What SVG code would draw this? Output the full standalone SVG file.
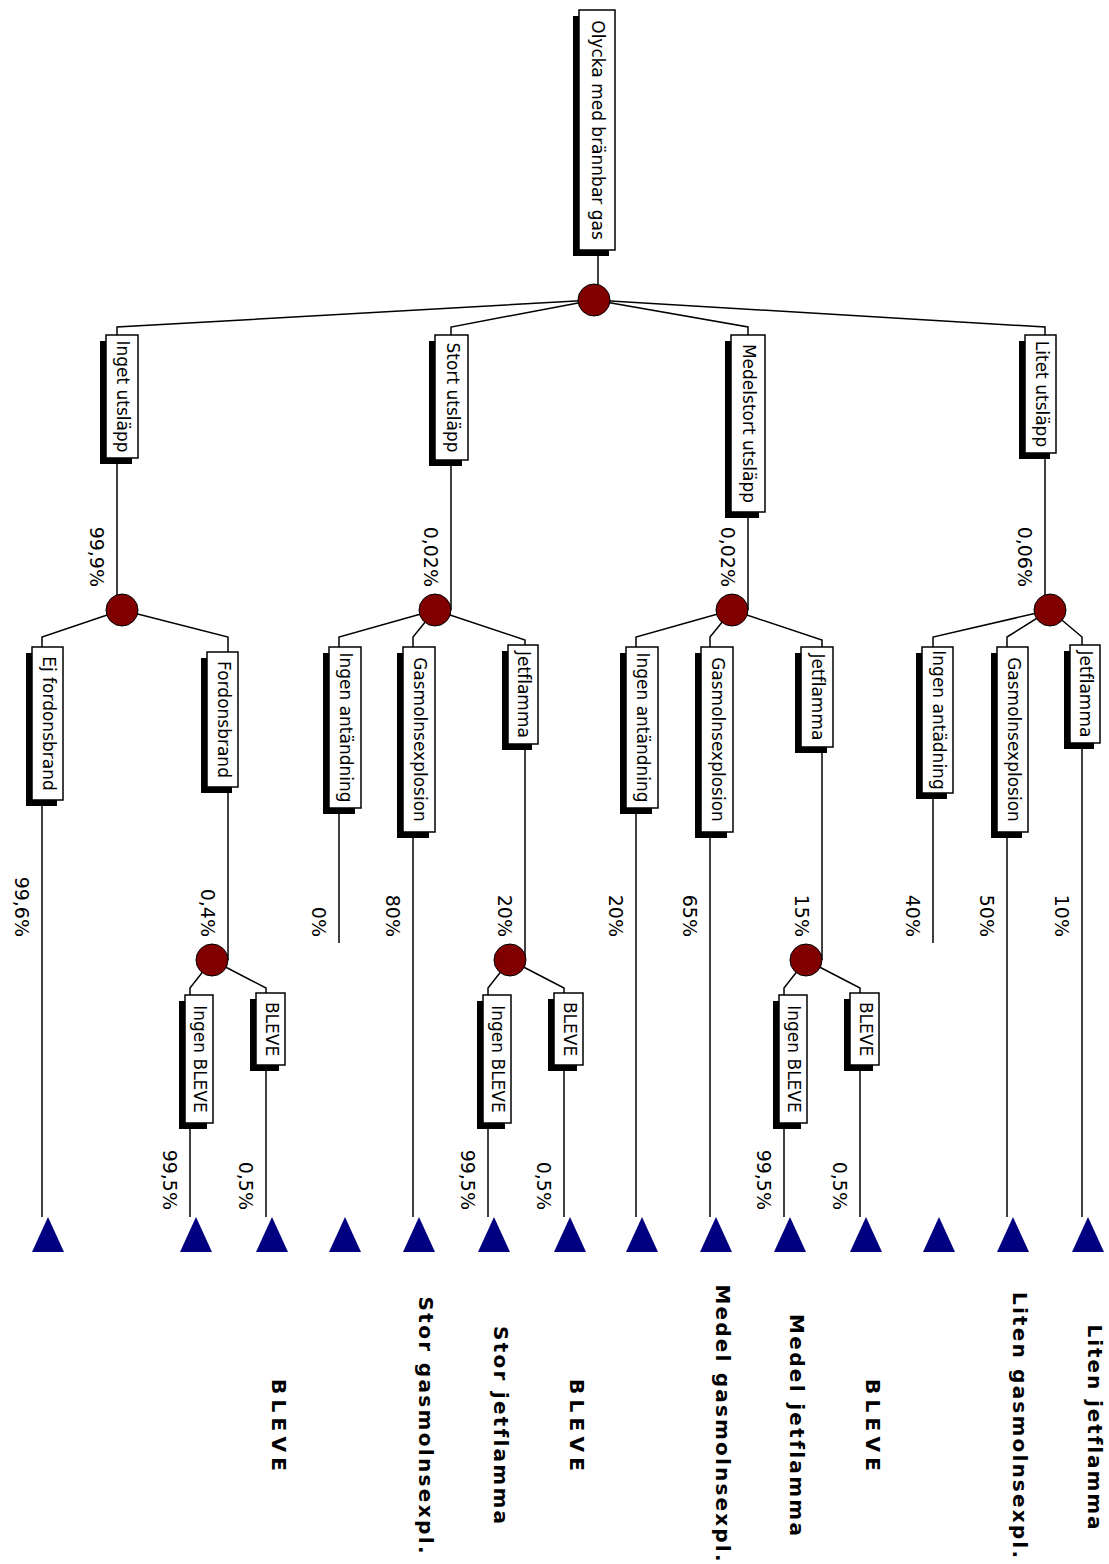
<svg xmlns="http://www.w3.org/2000/svg" width="1109" height="1564" viewBox="0 0 1109 1564">
<defs>
<style>
text{font-variant-ligatures:none}
.sh{fill:#000}
.bx{fill:#fff;stroke:#000;stroke-width:1.5}
.lbl{font-family:"DejaVu Sans",sans-serif;font-size:17px;text-anchor:middle;fill:#000}
.pct{font-family:"DejaVu Sans",sans-serif;font-size:19px;text-anchor:end;fill:#000}
.out{font-family:"DejaVu Sans",sans-serif;font-weight:bold;font-size:20px;text-anchor:middle;fill:#000}
.ch{fill:#800000;stroke:#000;stroke-width:1}
.end{fill:#000080}
.conn{stroke:#000;stroke-width:1.5;fill:none}
</style>
</defs>
<rect width="1109" height="1564" fill="#fff"/>
<g id="connectors" class="conn">
<polyline points="598,250 598,300"/>
<polyline points="594,300 117,327 117,335"/>
<polyline points="594,300 451,327 451,335"/>
<polyline points="594,300 748,327 748,335"/>
<polyline points="594,300 1045,327 1045,335"/>
<polyline points="117,458 117,605"/>
<polyline points="451,460 451,610"/>
<polyline points="748,512 748,610"/>
<polyline points="1045,453 1045,605"/>
<polyline points="122,610 42,637 42,647"/>
<polyline points="122,610 228,637 228,652"/>
<polyline points="435,610 339,637 339,647"/>
<polyline points="435,610 413,637 413,647"/>
<polyline points="435,610 525,640 525,645"/>
<polyline points="732,610 636,637 636,647"/>
<polyline points="732,610 710,637 710,647"/>
<polyline points="732,610 822,640 822,647"/>
<polyline points="1050,610 933,637 933,647"/>
<polyline points="1050,610 1007,637 1007,647"/>
<polyline points="1050,610 1082,637 1082,645"/>
<polyline points="42,800 42,1217"/>
<polyline points="228,787 228,960"/>
<polyline points="339,808 339,943"/>
<polyline points="413,832 413,1217"/>
<polyline points="525,744 525,960"/>
<polyline points="636,808 636,1217"/>
<polyline points="710,832 710,1217"/>
<polyline points="822,747 822,960"/>
<polyline points="933,793 933,943"/>
<polyline points="1007,832 1007,1217"/>
<polyline points="1082,743 1082,1217"/>
<polyline points="212,960 190,988 190,995"/>
<polyline points="212,960 266,988 266,993"/>
<polyline points="510,960 488,988 488,995"/>
<polyline points="510,960 564,988 564,993"/>
<polyline points="806,960 784,988 784,995"/>
<polyline points="806,960 860,988 860,993"/>
<polyline points="190,1123 190,1217"/>
<polyline points="266,1065 266,1217"/>
<polyline points="488,1123 488,1217"/>
<polyline points="564,1065 564,1217"/>
<polyline points="784,1123 784,1217"/>
<polyline points="860,1065 860,1217"/>
</g>
<g id="n-root"><rect class="sh" x="573" y="16" width="36" height="240"/><rect class="bx" x="579" y="10" width="36" height="240"/><text class="lbl" transform="translate(592,130) rotate(90)">Olycka med brännbar gas</text></g>
<g id="n-inget"><rect class="sh" x="100" y="341" width="32" height="123"/><rect class="bx" x="106" y="335" width="32" height="123"/><text class="lbl" transform="translate(117,396.5) rotate(90)">Inget utsläpp</text></g>
<g id="n-stort"><rect class="sh" x="429" y="341" width="33" height="125"/><rect class="bx" x="435" y="335" width="33" height="125"/><text class="lbl" transform="translate(446.5,397.5) rotate(90)">Stort utsläpp</text></g>
<g id="n-medel"><rect class="sh" x="725" y="341" width="34" height="177"/><rect class="bx" x="731" y="335" width="34" height="177"/><text class="lbl" transform="translate(743,423.5) rotate(90)">Medelstort utsläpp</text></g>
<g id="n-litet"><rect class="sh" x="1019" y="341" width="31" height="118"/><rect class="bx" x="1025" y="335" width="31" height="118"/><text class="lbl" transform="translate(1035.5,394) rotate(90)">Litet utsläpp</text></g>
<g id="n-ej"><rect class="sh" x="26" y="653" width="31" height="153"/><rect class="bx" x="32" y="647" width="31" height="153"/><text class="lbl" transform="translate(42.5,723.5) rotate(90)">Ej fordonsbrand</text></g>
<g id="n-ford"><rect class="sh" x="201" y="658" width="31" height="135"/><rect class="bx" x="207" y="652" width="31" height="135"/><text class="lbl" transform="translate(217.5,719.5) rotate(90)">Fordonsbrand</text></g>
<g id="n-s-ia"><rect class="sh" x="323" y="653" width="32" height="161"/><rect class="bx" x="329" y="647" width="32" height="161"/><text class="lbl" transform="translate(340,727.5) rotate(90)">Ingen antändning</text></g>
<g id="n-s-g"><rect class="sh" x="397" y="653" width="32" height="185"/><rect class="bx" x="403" y="647" width="32" height="185"/><text class="lbl" transform="translate(414,739.5) rotate(90)">Gasmolnsexplosion</text></g>
<g id="n-s-j"><rect class="sh" x="502" y="651" width="30" height="99"/><rect class="bx" x="508" y="645" width="30" height="99"/><text class="lbl" transform="translate(518,694.5) rotate(90)">Jetflamma</text></g>
<g id="n-m-ia"><rect class="sh" x="620" y="653" width="32" height="161"/><rect class="bx" x="626" y="647" width="32" height="161"/><text class="lbl" transform="translate(637,727.5) rotate(90)">Ingen antändning</text></g>
<g id="n-m-g"><rect class="sh" x="695" y="653" width="32" height="185"/><rect class="bx" x="701" y="647" width="32" height="185"/><text class="lbl" transform="translate(712,739.5) rotate(90)">Gasmolnsexplosion</text></g>
<g id="n-m-j"><rect class="sh" x="795" y="653" width="32" height="100"/><rect class="bx" x="801" y="647" width="32" height="100"/><text class="lbl" transform="translate(812,697) rotate(90)">Jetflamma</text></g>
<g id="n-l-ia"><rect class="sh" x="916" y="653" width="31" height="146"/><rect class="bx" x="922" y="647" width="31" height="146"/><text class="lbl" transform="translate(932.5,720) rotate(90)">Ingen antädning</text></g>
<g id="n-l-g"><rect class="sh" x="991" y="653" width="31" height="185"/><rect class="bx" x="997" y="647" width="31" height="185"/><text class="lbl" transform="translate(1007.5,739.5) rotate(90)">Gasmolnsexplosion</text></g>
<g id="n-l-j"><rect class="sh" x="1064" y="651" width="30" height="98"/><rect class="bx" x="1070" y="645" width="30" height="98"/><text class="lbl" transform="translate(1080,694) rotate(90)">Jetflamma</text></g>
<g id="n-f-ib"><rect class="sh" x="179" y="1001" width="28" height="128"/><rect class="bx" x="185" y="995" width="28" height="128"/><text class="lbl" transform="translate(194,1059) rotate(90)">Ingen BLEVE</text></g>
<g id="n-f-b"><rect class="sh" x="250" y="999" width="29" height="72"/><rect class="bx" x="256" y="993" width="29" height="72"/><text class="lbl" transform="translate(265.5,1029) rotate(90)">BLEVE</text></g>
<g id="n-s-ib"><rect class="sh" x="477" y="1001" width="28" height="128"/><rect class="bx" x="483" y="995" width="28" height="128"/><text class="lbl" transform="translate(492,1059) rotate(90)">Ingen BLEVE</text></g>
<g id="n-s-b"><rect class="sh" x="548" y="999" width="29" height="72"/><rect class="bx" x="554" y="993" width="29" height="72"/><text class="lbl" transform="translate(563.5,1029) rotate(90)">BLEVE</text></g>
<g id="n-m-ib"><rect class="sh" x="773" y="1001" width="28" height="128"/><rect class="bx" x="779" y="995" width="28" height="128"/><text class="lbl" transform="translate(788,1059) rotate(90)">Ingen BLEVE</text></g>
<g id="n-m-b"><rect class="sh" x="844" y="999" width="29" height="72"/><rect class="bx" x="850" y="993" width="29" height="72"/><text class="lbl" transform="translate(859.5,1029) rotate(90)">BLEVE</text></g>
<g id="chance-nodes">
<circle id="c-root" class="ch" cx="594" cy="300" r="16"/>
<circle id="c-inget" class="ch" cx="122" cy="610" r="16"/>
<circle id="c-stort" class="ch" cx="435" cy="610" r="16"/>
<circle id="c-medel" class="ch" cx="732" cy="610" r="16"/>
<circle id="c-litet" class="ch" cx="1050" cy="610" r="16"/>
<circle id="c-ford" class="ch" cx="212" cy="960" r="16"/>
<circle id="c-sj" class="ch" cx="510" cy="960" r="16"/>
<circle id="c-mj" class="ch" cx="806" cy="960" r="16"/>
</g>
<g id="end-nodes" class="end">
<polygon points="48,1217 32,1252 64,1252"/>
<polygon points="196,1217 180,1252 212,1252"/>
<polygon points="272,1217 256,1252 288,1252"/>
<polygon points="345,1217 329,1252 361,1252"/>
<polygon points="419,1217 403,1252 435,1252"/>
<polygon points="494,1217 478,1252 510,1252"/>
<polygon points="570,1217 554,1252 586,1252"/>
<polygon points="642,1217 626,1252 658,1252"/>
<polygon points="716,1217 700,1252 732,1252"/>
<polygon points="790,1217 774,1252 806,1252"/>
<polygon points="866,1217 850,1252 882,1252"/>
<polygon points="939,1217 923,1252 955,1252"/>
<polygon points="1013,1217 997,1252 1029,1252"/>
<polygon points="1088,1217 1072,1252 1104,1252"/>
</g>
<g id="probabilities">
<text class="pct" transform="translate(90,587) rotate(90)">99,9%</text>
<text class="pct" transform="translate(424,587) rotate(90)">0,02%</text>
<text class="pct" transform="translate(721,587) rotate(90)">0,02%</text>
<text class="pct" transform="translate(1018,587) rotate(90)">0,06%</text>
<text class="pct" transform="translate(15,937) rotate(90)">99,6%</text>
<text class="pct" transform="translate(201,937) rotate(90)">0,4%</text>
<text class="pct" transform="translate(312,937) rotate(90)">0%</text>
<text class="pct" transform="translate(386,937) rotate(90)">80%</text>
<text class="pct" transform="translate(498,937) rotate(90)">20%</text>
<text class="pct" transform="translate(609,937) rotate(90)">20%</text>
<text class="pct" transform="translate(683,937) rotate(90)">65%</text>
<text class="pct" transform="translate(795,937) rotate(90)">15%</text>
<text class="pct" transform="translate(906,937) rotate(90)">40%</text>
<text class="pct" transform="translate(980,937) rotate(90)">50%</text>
<text class="pct" transform="translate(1055,937) rotate(90)">10%</text>
<text class="pct" transform="translate(163,1210) rotate(90)">99,5%</text>
<text class="pct" transform="translate(239,1210) rotate(90)">0,5%</text>
<text class="pct" transform="translate(461,1210) rotate(90)">99,5%</text>
<text class="pct" transform="translate(537,1210) rotate(90)">0,5%</text>
<text class="pct" transform="translate(757,1210) rotate(90)">99,5%</text>
<text class="pct" transform="translate(833,1210) rotate(90)">0,5%</text>
</g>
<g id="outcomes">
<text class="out" transform="translate(272,1425) rotate(90)" textLength="92" lengthAdjust="spacing">BLEVE</text>
<text class="out" transform="translate(419,1425) rotate(90)" textLength="257" lengthAdjust="spacing">Stor gasmolnsexpl.</text>
<text class="out" transform="translate(494,1425) rotate(90)" textLength="198" lengthAdjust="spacing">Stor jetflamma</text>
<text class="out" transform="translate(570,1425) rotate(90)" textLength="92" lengthAdjust="spacing">BLEVE</text>
<text class="out" transform="translate(716,1423) rotate(90)" textLength="277" lengthAdjust="spacing">Medel gasmolnsexpl.</text>
<text class="out" transform="translate(790,1425) rotate(90)" textLength="222" lengthAdjust="spacing">Medel jetflamma</text>
<text class="out" transform="translate(866,1425) rotate(90)" textLength="92" lengthAdjust="spacing">BLEVE</text>
<text class="out" transform="translate(1013,1425) rotate(90)" textLength="266" lengthAdjust="spacing">Liten gasmolnsexpl.</text>
<text class="out" transform="translate(1088,1427) rotate(90)" textLength="205" lengthAdjust="spacing">Liten jetflamma</text>
</g>
</svg>
